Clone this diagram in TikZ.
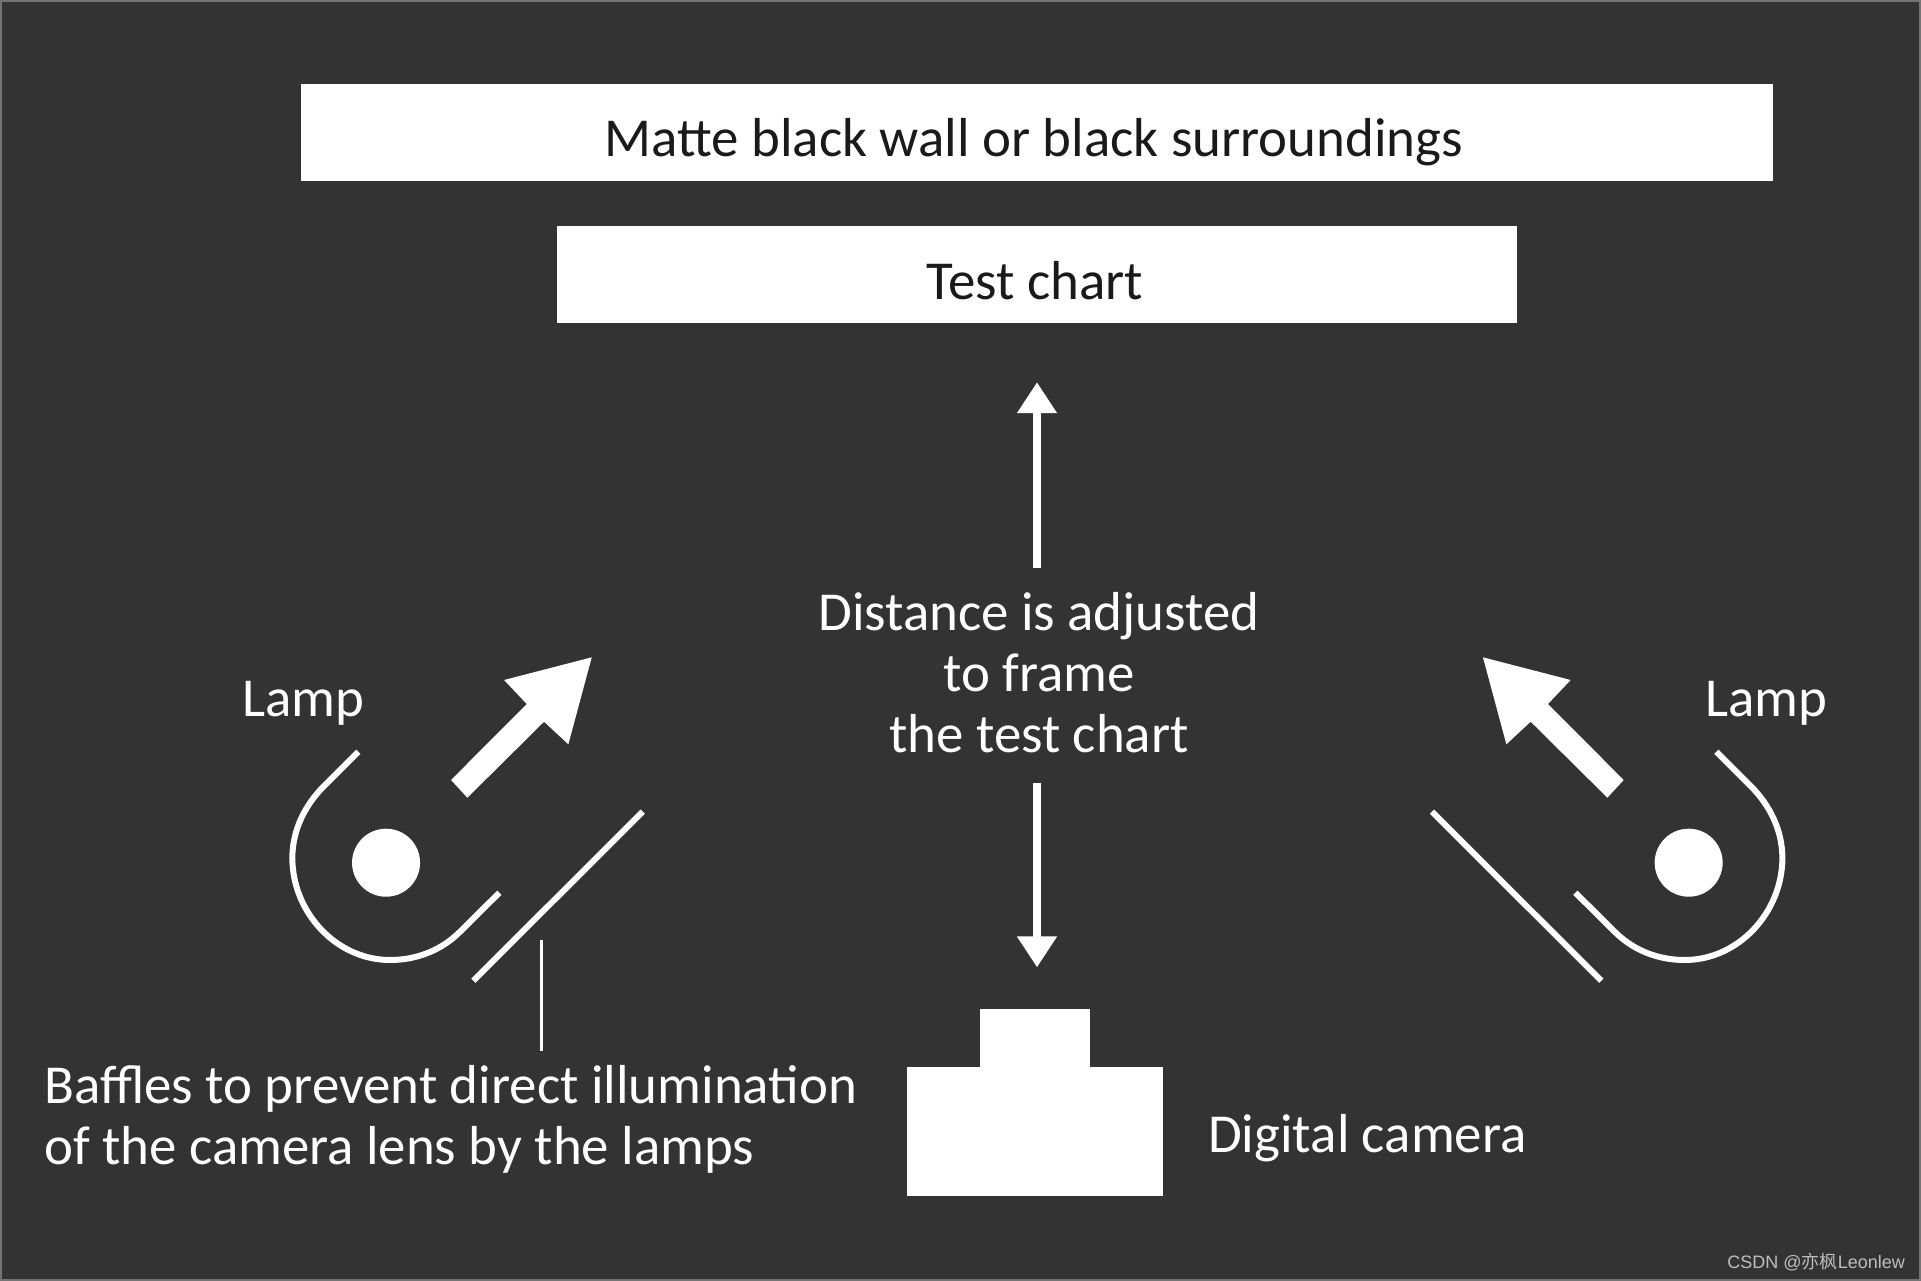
\documentclass[tikz,border=0pt]{standalone}
\usepackage{xcolor}
\usepackage{fontspec}
\setmainfont{Carlito}
\newfontfamily\markfont{Liberation Sans}
\newfontfamily\markcjk{Noto Sans CJK SC}
\usetikzlibrary{arrows.meta}
\definecolor{walldark}{HTML}{333333}
\definecolor{panelink}{HTML}{1A1A1A}
\tikzset{
  panel/.style={fill=white,inner sep=0pt,text=panelink,minimum height=97pt,text height=60pt,text depth=11pt},
  label/.style={text=white,inner sep=0pt},
  vecarrow/.style={white,line width=8pt,-{Triangle[length=31pt,width=38pt]}},
  lampline/.style={white,line width=6pt},
  campart/.style={fill=white,inner sep=0pt}
}
\begin{document}
\begin{tikzpicture}[x=1pt,y=-1pt,font=\fontsize{54.9}{61}\selectfont]
\useasboundingbox (0,0) rectangle (1921,1281);
\fill[walldark] (0,0) rectangle (1921,1281);
\draw[gray!85!walldark,line width=1.6pt] (0.8,0.8) rectangle (1920.2,1280.2);
% wall and chart
\node[panel,minimum width=1472pt] (wall) at (1037,132.5) {\hspace*{-6pt}Matte black wall or black surroundings};
\node[panel,minimum width=960pt] (chart) at (1037,274.5) {\hspace*{-4pt}Test chart};
% camera
\node[campart,minimum width=256pt,minimum height=129pt] (body) at (1035,1131.5) {};
\node[campart,minimum width=110pt,minimum height=59pt,anchor=south,yshift=-1pt] (top) at (body.north) {};
\node[label,anchor=base west] (camlabel) at (1208,1152) {Digital camera};
% distance
\node[label,align=center] (dist) at (1039,673) {Distance is adjusted\\to frame\\the test chart};
\draw[vecarrow,shorten >=59pt,shorten <=25pt] (chart.south |- dist.north) -- (chart.south);
\draw[vecarrow,shorten >=41pt,shorten <=30pt] (chart.south |- dist.south) -- (chart.south |- top.north);
% lamps, the right one mirrored
\foreach \mir/\nm in {1/left,-1/right}{
\begin{scope}[shift={(1037.35,0)},xscale=\mir]
\fill[white] (-651.3,862.7) circle [radius=34];
\draw[lampline] (-679,751.7) -- (-713.3,786)
  .. controls (-732.3,805) and (-745,830) .. (-745,858)
  .. controls (-745,912) and (-701.3,960) .. (-647.3,960)
  .. controls (-621.3,960) and (-596.3,950.7) .. (-577.3,931.7) -- (-538,892.7);
\draw[lampline] (-394.6,811.7) -- (-564,980.7);
\fill[white] (-445.6,657.3) -- (-533.3,680) -- (-510.6,704) -- (-586.3,780) -- (-570,797.7)
  -- (-493.3,721.7) -- (-469,744.3) -- cycle;
\end{scope}
}
\node[label,anchor=base west] (lampa) at (242,716) {Lamp};
\node[label,anchor=base west] (lampb) at (1705,716) {Lamp};
% baffles
\node[label,align=left,anchor=west] (baffles) at (44,1119) {Baffles to prevent direct illumination\\of the camera lens by the lamps};
\coordinate (bafflefoot) at (541.3,940);
\draw[white,line width=2.7pt,shorten >=14pt] (bafflefoot) -- (bafflefoot |- baffles.north);
% watermark
\node[text=white!68!walldark,inner sep=0pt,anchor=base east,font=\fontsize{18}{20}\markfont] (mark) at (1905,1268) {CSDN @{\markcjk 亦枫}Leonlew};
\end{tikzpicture}
\end{document}
